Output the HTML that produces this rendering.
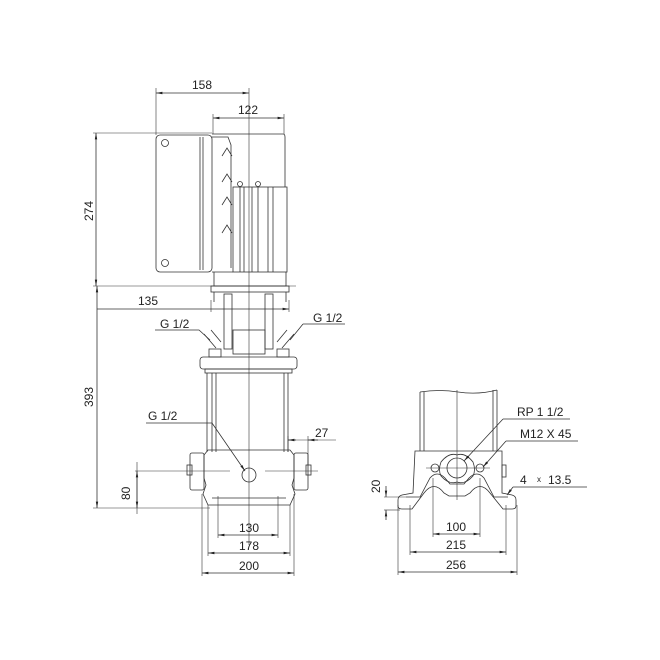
<!DOCTYPE html>
<html><head><meta charset="utf-8"><style>
html,body{margin:0;padding:0;background:#fff}
svg{display:block}
text{font-family:"Liberation Sans",sans-serif;font-size:12px;fill:#222}
</style></head><body>
<svg width="660" height="660" viewBox="0 0 660 660" xmlns="http://www.w3.org/2000/svg">
<defs>
<marker id="a" viewBox="0 0 8 6" refX="8" refY="3" markerWidth="8" markerHeight="6" orient="auto-start-reverse"><path d="M0,1.5L8,3L0,4.5z" fill="#222"/></marker>
</defs>
<g stroke="#333" stroke-width="0.8" fill="none">
<!-- centerline left -->
<line x1="249" y1="88" x2="249" y2="545" stroke-width="0.6"/>
<!-- extension lines -->
<line x1="156" y1="88" x2="156" y2="135" stroke-width="0.6"/>
<line x1="213" y1="114" x2="213" y2="134" stroke-width="0.6"/>
<line x1="284" y1="114" x2="284" y2="134" stroke-width="0.6"/>
<line x1="93" y1="133" x2="212" y2="133" stroke-width="0.6"/>
<line x1="93" y1="286" x2="296" y2="286" stroke-width="0.6"/>
<line x1="93" y1="508" x2="210" y2="508" stroke-width="0.6"/>
<!-- dims -->
<line x1="156" y1="93" x2="249" y2="93" marker-start="url(#a)" marker-end="url(#a)"/>
<line x1="213" y1="118" x2="284" y2="118" marker-start="url(#a)" marker-end="url(#a)"/>
<line x1="96" y1="133" x2="96" y2="286" marker-start="url(#a)" marker-end="url(#a)"/>
<line x1="97" y1="286" x2="97" y2="508" marker-start="url(#a)" marker-end="url(#a)"/>
<line x1="97" y1="309" x2="289" y2="309" marker-end="url(#a)"/>
<line x1="211" y1="300" x2="211" y2="312" stroke-width="0.6"/>
<line x1="289" y1="300" x2="289" y2="312" stroke-width="0.6"/>
<!-- motor terminal box -->
<rect x="156" y="135" width="56" height="137" rx="4"/>
<line x1="200" y1="137" x2="200" y2="270"/>
<line x1="203" y1="137" x2="203" y2="270"/>
<circle cx="165" cy="143" r="3.5"/>
<circle cx="165" cy="263" r="3.5"/>
<path d="M212,134 L283,134 Q285,134 285,137 L285,187 M212,272 L233,272"/>
<path d="M212,137 L228,137 L231,145 L231,268 M222,156 l5,-8 l5,8 M222,182 l5,-8 l5,8 M222,205 l5,-8 l5,8 M222,233 l5,-8 l5,8"/>
<!-- fins -->
<rect x="233" y="187" width="54" height="85"/>
<line x1="240" y1="187" x2="240" y2="272"/>
<line x1="244" y1="187" x2="244" y2="272"/>
<line x1="252" y1="187" x2="252" y2="272"/>
<line x1="258" y1="187" x2="258" y2="272"/>
<line x1="268" y1="187" x2="268" y2="272"/>
<line x1="273" y1="187" x2="273" y2="272"/>
<circle cx="240" cy="184" r="2.5"/><circle cx="258" cy="184" r="2.5"/>
<!-- adapter -->
<path d="M214,272 L214,286 L286,286 L286,272"/>
<rect x="211" y="286" width="78" height="6"/>
<path d="M214,292 L214,302 M286,292 L286,302"/>
<rect x="224" y="294" width="8" height="55"/>
<rect x="265" y="294" width="8" height="55"/>
<rect x="233" y="330" width="32" height="24"/>
<path d="M204,334 L216,348 M211,330 L221,342 M294,334 L282,348 M287,330 L277,342"/>
<rect x="209" y="349" width="12" height="8"/>
<rect x="277" y="349" width="12" height="8"/>
<!-- flange/head -->
<rect x="200" y="357" width="97" height="12" rx="3"/>
<rect x="205" y="369" width="87" height="4"/>
<line x1="207" y1="373" x2="207" y2="452"/>
<line x1="212" y1="373" x2="212" y2="452"/>
<line x1="216" y1="373" x2="216" y2="452"/>
<line x1="284" y1="373" x2="284" y2="452"/>
<line x1="288" y1="373" x2="288" y2="452"/>
<!-- base -->
<path d="M208,450 L290,450 L294,455 L294,478 L292,485 L295,494 L290,505 L208,505 L203,494 L206,485 L204,478 L204,455 Z"/>
<rect x="190" y="453" width="14" height="37" rx="2"/>
<rect x="294" y="453" width="14" height="37" rx="2"/>
<rect x="187" y="465" width="5" height="10"/>
<rect x="306" y="465" width="5" height="10"/>
<line x1="212" y1="498" x2="286" y2="498"/>
<line x1="135" y1="471" x2="230" y2="471" stroke-width="0.6"/>
<line x1="265" y1="471" x2="318" y2="471" stroke-width="0.6"/>
<circle cx="249" cy="475" r="7"/>
<!-- leaders left -->
<path d="M155,330 L199,330 L210,340"/>
<path d="M303,324 L345,324 M303,324 L290,340"/>
<path d="M146,423 L212,423 L245,471" marker-end="url(#a)"/>
<!-- 27 -->
<line x1="288" y1="440" x2="336" y2="440" stroke-width="0.6"/>
<line x1="288" y1="436" x2="288" y2="452" stroke-width="0.6"/>
<line x1="308" y1="436" x2="308" y2="465" stroke-width="0.6"/>
<path d="M296,440 L288,440" marker-end="url(#a)"/>
<path d="M318,440 L308,440" marker-end="url(#a)"/>
<!-- 80 -->
<line x1="137" y1="462" x2="137" y2="514" stroke-width="0.6"/>
<path d="M137,471 L137,508" marker-start="url(#a)" marker-end="url(#a)"/>
<!-- bottom dims left -->
<line x1="218" y1="496" x2="218" y2="538" stroke-width="0.6"/>
<line x1="278" y1="496" x2="278" y2="538" stroke-width="0.6"/>
<line x1="208" y1="505" x2="208" y2="556" stroke-width="0.6"/>
<line x1="290" y1="505" x2="290" y2="556" stroke-width="0.6"/>
<line x1="202" y1="494" x2="202" y2="576" stroke-width="0.6"/>
<line x1="294" y1="494" x2="294" y2="576" stroke-width="0.6"/>
<line x1="218" y1="535" x2="278" y2="535" marker-start="url(#a)" marker-end="url(#a)"/>
<line x1="208" y1="553" x2="290" y2="553" marker-start="url(#a)" marker-end="url(#a)"/>
<line x1="202" y1="573" x2="294" y2="573" marker-start="url(#a)" marker-end="url(#a)"/>

<!-- RIGHT VIEW -->
<line x1="457" y1="390" x2="457" y2="500" stroke-width="0.6"/>
<path d="M420,392 Q440,389 458,392 Q478,395 497,390"/>
<line x1="420" y1="392" x2="420" y2="451"/>
<line x1="424" y1="392" x2="424" y2="451"/>
<line x1="497" y1="390" x2="497" y2="451"/>
<line x1="493" y1="390" x2="493" y2="451"/>
<path d="M415,451 L502,451 L502,493 L512,495 Q516,496 516,500 L516,506 Q516,509 512,509 L503,509 L490,493 Q480,480 470,493 L465,496 L449,496 L444,493 Q434,480 424,493 L412,509 L402,509 Q398,509 398,506 L398,500 Q398,496 402,495 L413,493 L415,451 Z"/>
<path d="M406,497 L420,497 L430,478 Q437,470 445,478 L450,484 L464,484 L469,478 Q477,470 484,478 L494,497 L508,497"/>
<path d="M441,462 Q449,452 457,455 Q465,452 473,462 Q476,470 473,476 Q465,485 457,482 Q449,485 441,476 Q438,470 441,462 Z"/>
<circle cx="457" cy="468" r="10"/>
<circle cx="435" cy="468" r="4"/>
<circle cx="480" cy="468" r="4"/>
<rect x="502" y="465" width="4" height="12"/>
<line x1="426" y1="468" x2="490" y2="468" stroke-width="0.6"/>
<!-- leaders right -->
<path d="M503,419 L570,419 M503,419 L464,461" marker-end="url(#a)"/>
<path d="M506,441 L578,441 M506,441 L483,467" marker-end="url(#a)"/>
<path d="M513,487 L587,487 M513,487 L507,495" marker-end="url(#a)"/>
<!-- 20 -->
<line x1="384" y1="497" x2="406" y2="497" stroke-width="0.6"/>
<line x1="384" y1="510" x2="400" y2="510" stroke-width="0.6"/>
<path d="M386,486 L386,497" marker-end="url(#a)"/>
<path d="M386,520 L386,510" marker-end="url(#a)"/>
<!-- bottom dims right -->
<line x1="433" y1="478" x2="433" y2="537" stroke-width="0.6"/>
<line x1="480" y1="478" x2="480" y2="537" stroke-width="0.6"/>
<line x1="410" y1="505" x2="410" y2="555" stroke-width="0.6"/>
<line x1="506" y1="505" x2="506" y2="555" stroke-width="0.6"/>
<line x1="398" y1="505" x2="398" y2="575" stroke-width="0.6"/>
<line x1="517" y1="505" x2="517" y2="575" stroke-width="0.6"/>
<line x1="433" y1="534" x2="480" y2="534" marker-start="url(#a)" marker-end="url(#a)"/>
<line x1="410" y1="552" x2="506" y2="552" marker-start="url(#a)" marker-end="url(#a)"/>
<line x1="398" y1="572" x2="517" y2="572" marker-start="url(#a)" marker-end="url(#a)"/>
</g>
<text x="192" y="89">158</text>
<text x="238" y="114">122</text>
<text x="138" y="305">135</text>
<text x="160" y="328">G 1/2</text>
<text x="313" y="322">G 1/2</text>
<text x="148" y="420">G 1/2</text>
<text x="315" y="437">27</text>
<text x="239" y="532">130</text>
<text x="239" y="550">178</text>
<text x="239" y="570">200</text>
<text x="446" y="531">100</text>
<text x="446" y="549">215</text>
<text x="446" y="569">256</text>
<text x="517" y="416">RP 1 1/2</text>
<text x="520" y="438">M12 X 45</text>
<text x="520" y="484">4</text>
<text x="537" y="482" style="font-size:8px">x</text>
<text x="548" y="484">13.5</text>
<text transform="translate(93,221) rotate(-90)">274</text>
<text transform="translate(93,407) rotate(-90)">393</text>
<text transform="translate(130,500) rotate(-90)">80</text>
<text transform="translate(380,493) rotate(-90)">20</text>
</svg>
</body></html>
